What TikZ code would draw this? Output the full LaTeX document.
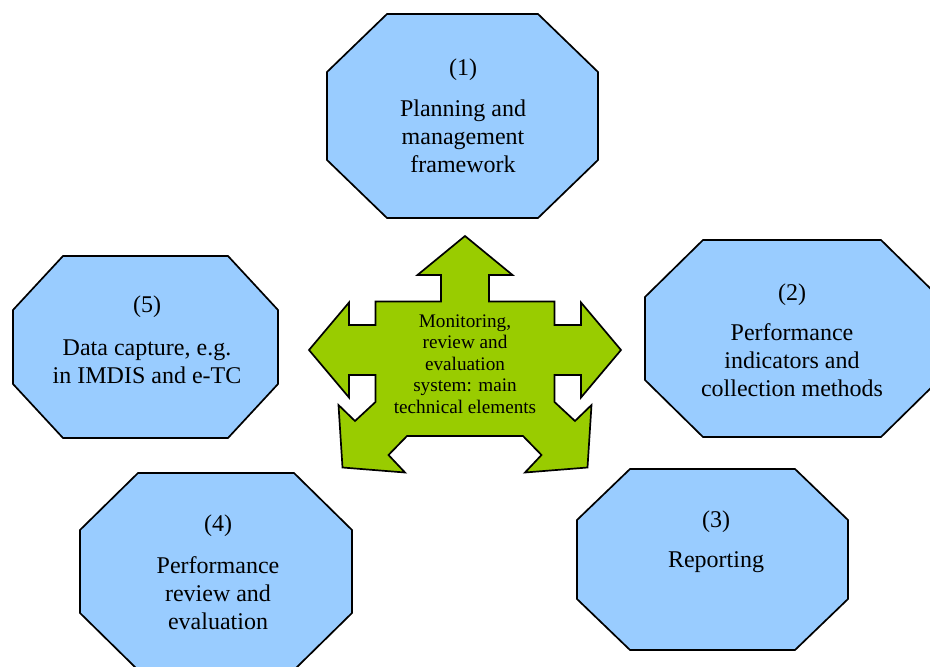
\documentclass[tikz,border=0pt]{standalone}
\usepackage{fontspec}
\setmainfont{Liberation Serif}
\definecolor{boxblue}{RGB}{153,204,255}
\definecolor{hubgreen}{RGB}{153,204,0}
\tikzset{
  octa/.style={draw=black, fill=boxblue, line width=1.7pt, line join=miter},
  hub/.style={draw=black, fill=hubgreen, line width=1.7pt, line join=miter},
  numtext/.style={anchor=base, inner sep=0pt, font=\fontsize{24}{28}\selectfont},
  boxtext/.style={anchor=base, inner sep=0pt, align=center, font=\fontsize{24}{28}\selectfont},
  hubtext/.style={anchor=base, inner sep=0pt, align=center, font=\fontsize{19.2}{21.5}\selectfont}
}
% octagon: left, top, right, bottom, horizontal cut, vertical cut
\newcommand\octbox[6]{%
  \path[octa] ({#1+#5},#2) -- ({#3-#5},#2) -- (#3,{#2+#6}) -- (#3,{#4-#6})
    -- ({#3-#5},#4) -- ({#1+#5},#4) -- (#1,{#4-#6}) -- (#1,{#2+#6}) -- cycle;}
\begin{document}
\begin{tikzpicture}[x=1pt,y=-1pt]
\useasboundingbox (0,0) rectangle (930,667);
\clip (0,0) rectangle (930,667);

% outer boxes
\octbox{327}{14}{598}{218}{60}{58}
\octbox{645}{240}{939}{437}{58}{57}
\octbox{577}{469}{848}{650}{53}{51}
\octbox{80}{473}{352}{670}{58}{57}
\octbox{13}{256}{278}{438}{50}{54}

% central five-way arrow
\begin{scope}[shift={(465,0)}]
\path[hub] (0,236) -- (47.5,275) -- (24,275) -- (24,301.5) -- (89.5,301.5)
  -- (89.5,325) -- (116,325) -- (116,302.5) -- (156,350) -- (116,397.5)
  -- (116,375) -- (89.5,375) -- (89.5,402) -- (110,421) -- (126.5,405)
  -- (122.5,467.5) -- (60,472.5) -- (76.5,455) -- (58,436)
  -- (-58,436) -- (-76.5,455) -- (-60,472.5) -- (-122.5,467.5)
  -- (-126.5,405) -- (-110,421) -- (-89.5,402) -- (-89.5,375) -- (-116,375)
  -- (-116,397.5) -- (-156,350) -- (-116,302.5) -- (-116,325) -- (-89.5,325)
  -- (-89.5,301.5) -- (-24,301.5) -- (-24,275) -- (-47.5,275) -- cycle;
\end{scope}

% texts (multi-line nodes sit on the baseline of their last line)
\node[numtext] (n1) at (463,75) {(1)};
\node[boxtext] (t1) at (463,172) {Planning and\\management\\framework};

\node[numtext] (n2) at (792,300) {(2)};
\node[boxtext] (t2) at (792,396) {Performance\\indicators and\\collection methods};

\node[numtext] (n3) at (716,527) {(3)};
\node[boxtext] (t3) at (716,567) {Reporting};

\node[numtext] (n4) at (218,531) {(4)};
\node[boxtext] (t4) at (218,629) {Performance\\review and\\evaluation};

\node[numtext] (n5) at (147,312) {(5)};
\node[boxtext] (t5) at (147,383) {Data capture, e.g.\\in IMDIS and e-TC};

\node[hubtext] (hub) at (465,413) {Monitoring,\\review and\\evaluation\\system: main\\technical elements};
\end{tikzpicture}
\end{document}
